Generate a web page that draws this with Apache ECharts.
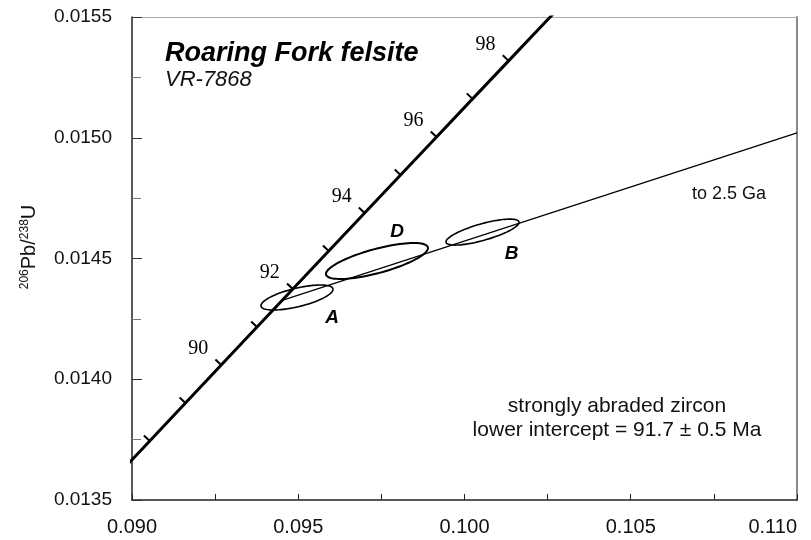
<!DOCTYPE html>
<html>
<head>
<meta charset="utf-8">
<script src="https://cdn.jsdelivr.net/npm/echarts@6/dist/echarts.min.js"></script>
<style>html,body{margin:0;padding:0;background:#fff}#c{width:811px;height:540px}</style>
</head>
<body>
<div id="c"></div>
<script>
// Concordia curve (age in Ma, 207Pb/235U, 206Pb/238U)
const concAge = [87, 88, 89, 90, 91, 92, 93, 94, 95, 96, 97, 98, 99, 100];
const concX = [0.0894597, 0.0905333, 0.0916078, 0.0926834, 0.0937601, 0.0948378, 0.0959166, 0.0969963, 0.0980773, 0.0991592, 0.1002423, 0.1013263, 0.1024116, 0.1034977];
const concY = [0.0135874, 0.0137446, 0.0139019, 0.0140592, 0.0142165, 0.0143738, 0.0145312, 0.0146886, 0.0148460, 0.0150034, 0.0151609, 0.0153184, 0.0154759, 0.0156334];
// Age tick marks on concordia and which are labelled
const tickAges = [88, 89, 90, 91, 92, 93, 94, 95, 96, 97, 98];
const labelAges = [90, 92, 94, 96, 98];
// Discordia (lower intercept 91.7 Ma toward 2.5 Ga)
const discX = [0.0945144, 0.110];
const discY = [0.0143266, 0.01502];
// Error ellipses
const ellName = ['A', 'D', 'B'];
const ellX = [0.094962, 0.097368, 0.100541];
const ellY = [0.0143385, 0.0144897, 0.0146093];
const ellSX = [0.001083, 0.001534, 0.0010977];
const ellSY = [0.0000518, 0.0000745, 0.0000538];
const ellRho = [0.65, 0.72, 0.75];
// Axis ticks
const xTicks = ['0.090', '0.095', '0.100', '0.105', '0.110'];
const yTicks = ['0.0135', '0.0140', '0.0145', '0.0150', '0.0155'];

const SANS = '"Liberation Sans", Arial, Helvetica, sans-serif';
const SERIF = '"Liberation Serif", "Times New Roman", serif';
const chart = echarts.init(document.getElementById('c'), null, {renderer: 'canvas'});

const ellLabelOffset = {A: [35, 20], D: [20, -29], B: [29, 22]};

const option = {
  animation: false,
  backgroundColor: '#fff',
  grid: {left: 132, right: 14, top: 17, bottom: 40, containLabel: false, outerBoundsMode: 'none'},
  xAxis: [{
    type: 'value', min: 0.090, max: 0.110, interval: 0.005,
    axisLine: {show: true, onZero: false, lineStyle: {color: '#222', width: 1.5}},
    axisTick: {show: true, inside: true, length: 6, lineStyle: {color: '#222', width: 1}},
    minorTick: {show: true, splitNumber: 2, length: 6, lineStyle: {color: '#222', width: 1}},
    splitLine: {show: false},
    axisLabel: {margin: 17, fontSize: 20, color: '#111', fontFamily: SANS, alignMaxLabel: 'right',
      formatter: v => xTicks.find(t => Math.abs(parseFloat(t) - v) < 1e-9) || ''}
  }, {
    type: 'value', position: 'top', min: 0.090, max: 0.110, interval: 0.005,
    axisLine: {show: true, onZero: false, lineStyle: {color: '#aaa', width: 1}},
    axisTick: {show: false}, axisLabel: {show: false}, splitLine: {show: false}
  }],
  yAxis: [{
    type: 'value', min: 0.0135, max: 0.0155, interval: 0.0005,
    axisLine: {show: true, onZero: false, lineStyle: {color: '#222', width: 1.5}},
    axisTick: {show: true, inside: true, length: 10, lineStyle: {color: '#333', width: 1}},
    minorTick: {show: true, splitNumber: 2, length: 9, lineStyle: {color: '#777', width: 1}},
    splitLine: {show: false},
    axisLabel: {margin: 20, fontSize: 19, color: '#111', fontFamily: SANS,
      formatter: v => yTicks.find(t => Math.abs(parseFloat(t) - v) < 1e-9) || ''}
  }, {
    type: 'value', position: 'right', min: 0.0135, max: 0.0155, interval: 0.0005,
    axisLine: {show: true, onZero: false, lineStyle: {color: '#888', width: 2}},
    axisTick: {show: false}, axisLabel: {show: false}, splitLine: {show: false}
  }],
  series: [
    {
      name: 'concordia', type: 'line', xAxisIndex: 0, yAxisIndex: 0,
      data: concX.map((x, i) => [x, concY[i]]),
      symbol: 'none', clip: true, z: 4,
      lineStyle: {color: '#000', width: 3}
    },
    {
      name: 'discordia', type: 'line', xAxisIndex: 0, yAxisIndex: 0,
      data: discX.map((x, i) => [x, discY[i]]),
      symbol: 'none', clip: true, z: 3,
      lineStyle: {color: '#000', width: 1.2}
    },
    {
      name: 'ellipses', type: 'custom', xAxisIndex: 0, yAxisIndex: 0, z: 5,
      data: ellX.map((x, i) => [x, ellY[i]]),
      renderItem: function (params, api) {
        const i = params.dataIndex;
        const pts = [];
        const r = ellRho[i], s = Math.sqrt(1 - r * r);
        for (let k = 0; k <= 96; k++) {
          const th = k * 2 * Math.PI / 96;
          const dx = ellSX[i] * Math.cos(th);
          const dy = ellSY[i] * (r * Math.cos(th) + s * Math.sin(th));
          pts.push(api.coord([ellX[i] + dx, ellY[i] + dy]));
        }
        const c = api.coord([ellX[i], ellY[i]]);
        const off = ellLabelOffset[ellName[i]];
        return {
          type: 'group',
          children: [
            {type: 'polygon', shape: {points: pts}, style: {fill: 'none', stroke: '#000', lineWidth: i === 1 ? 2 : 1.6}},
            {type: 'text', x: c[0] + off[0], y: c[1] + off[1],
              style: {text: ellName[i], fontSize: 19, fontWeight: 'bold', fontStyle: 'italic', fontFamily: SANS,
                fill: '#000', align: 'center', verticalAlign: 'middle'}}
          ]
        };
      }
    },
    {
      name: 'ageTicks', type: 'custom', xAxisIndex: 0, yAxisIndex: 0, z: 6,
      data: tickAges.map(a => { const j = concAge.indexOf(a); return [concX[j], concY[j], a]; }),
      renderItem: function (params, api) {
        const age = tickAges[params.dataIndex];
        const j = concAge.indexOf(age);
        const p = api.coord([concX[j], concY[j]]);
        const q = api.coord([concX[j + 1], concY[j + 1]]);
        let dx = q[0] - p[0], dy = q[1] - p[1];
        const L = Math.hypot(dx, dy); dx /= L; dy /= L;
        const px = dy, py = -dx; // perpendicular toward upper-left
        const len = 8;
        const children = [{
          type: 'line', shape: {x1: p[0], y1: p[1], x2: p[0] + px * len, y2: p[1] + py * len},
          style: {stroke: '#000', lineWidth: 2}
        }];
        if (labelAges.indexOf(age) >= 0) {
          children.push({type: 'text', x: p[0] - 23, y: p[1] - 16,
            style: {text: String(age), fontSize: 20, fontFamily: SERIF, fill: '#000', align: 'center', verticalAlign: 'middle'}});
        }
        return {type: 'group', children: children};
      }
    }
  ],
  graphic: [
    {type: 'text', left: 165, top: 40, style: {text: 'Roaring Fork felsite', fontSize: 27, fontWeight: 'bold', fontStyle: 'italic', fontFamily: SANS, fill: '#000'}},
    {type: 'text', left: 165, top: 69, style: {text: 'VR-7868', fontSize: 22, fontStyle: 'italic', fontFamily: SANS, fill: '#111'}},
    {type: 'text', x: 729, y: 194, style: {text: 'to 2.5 Ga', fontSize: 18, fontFamily: SANS, fill: '#111', align: 'center', verticalAlign: 'middle'}},
    {type: 'text', x: 617, y: 406, style: {text: 'strongly abraded zircon', fontSize: 21, fontFamily: SANS, fill: '#111', align: 'center', verticalAlign: 'middle'}},
    {type: 'text', x: 617, y: 430, style: {text: 'lower intercept = 91.7 \u00b1 0.5 Ma', fontSize: 21, fontFamily: SANS, fill: '#111', align: 'center', verticalAlign: 'middle'}},
    {type: 'text', x: 29, y: 247, rotation: Math.PI / 2,
      style: {text: '{s|206}{m|Pb/}{s|238}{m|U}', align: 'center', verticalAlign: 'middle', fill: '#111',
        rich: {
          s: {fontSize: 12, fontFamily: SANS, fill: '#111', verticalAlign: 'top', lineHeight: 20},
          m: {fontSize: 20, fontFamily: SANS, fill: '#111', verticalAlign: 'bottom', lineHeight: 20}
        }}}
  ]
};
chart.setOption(option);
</script>
</body>
</html>
